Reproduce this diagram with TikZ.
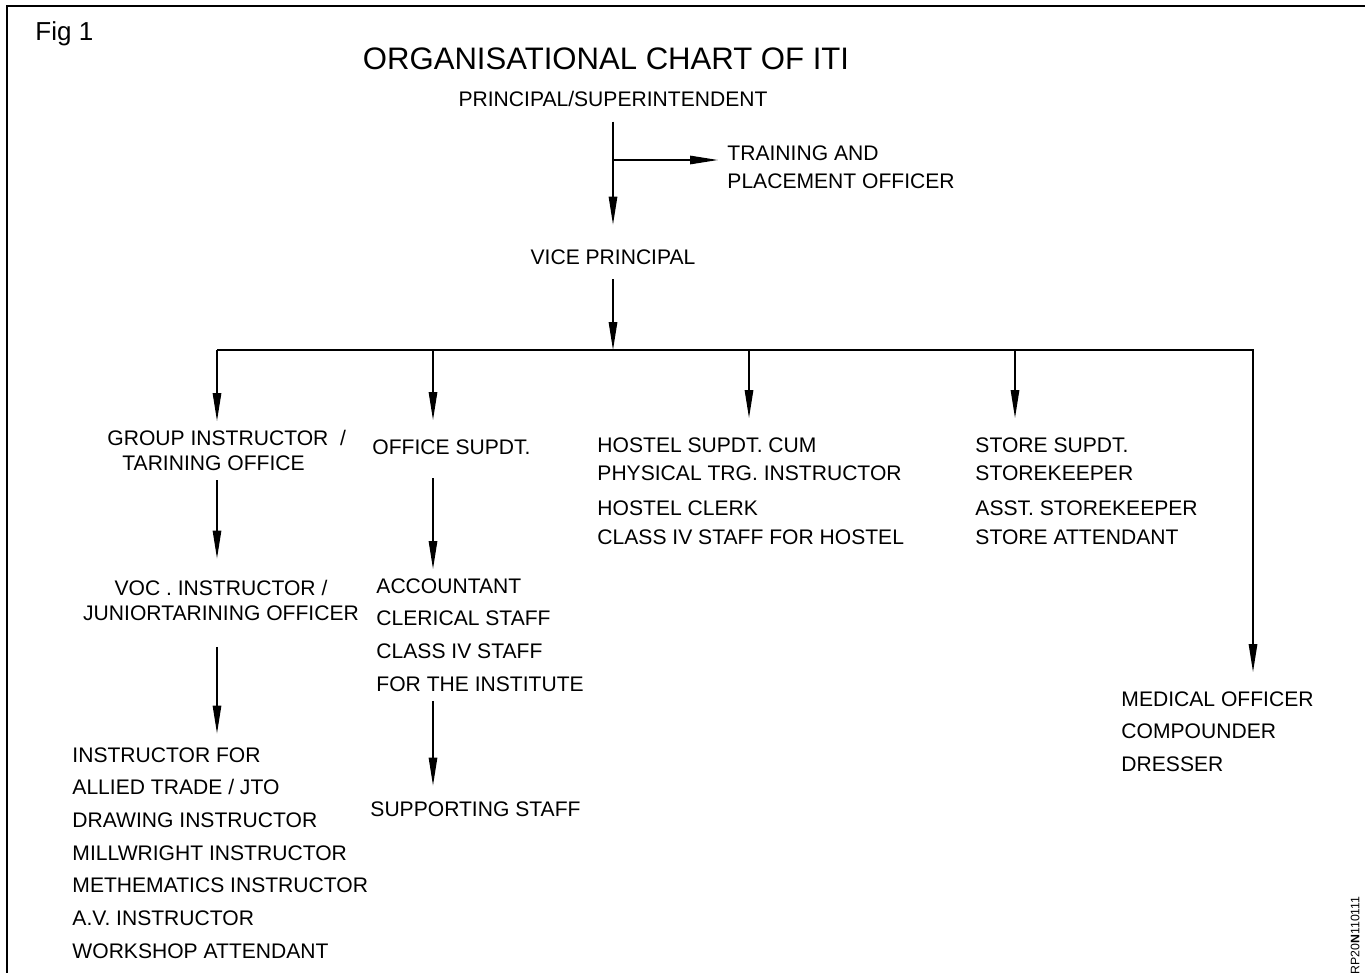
\documentclass[tikz,border=0pt]{standalone}
\usepackage{fontspec}
\setmainfont{Liberation Sans}
\usetikzlibrary{arrows.meta}

\begin{document}
\begin{tikzpicture}[>={Triangle[length=5.6mm,width=1.7mm]}, x=0.02cm, y=-0.02cm, line width=0.75pt]
		\tikzstyle{staff} = [font=\fontsize{12}{16.4}\selectfont, inner sep=5pt, align=left]
		\tikzstyle{roll} = [staff, anchor=north west, font=\fontsize{12}{18.6}\selectfont]
		\tikzstyle{longtip} = [shorten >=0.2cm]

		\useasboundingbox (0,0) rectangle (1365,973);
		% frame
		\draw[line width=1.1pt] (7,973) -- (7,6) -- (1365,6);

		\coordinate (br) at (613,160);
		\coordinate (bus) at (613,350);
		\coordinate (b1) at (217,350);
		\coordinate (b2) at (433,350);
		\coordinate (b3) at (749,350);
		\coordinate (b4) at (1015,350);
		\coordinate (b5) at (1253,350);

		\path[->]

		node[staff, anchor=west, font=\fontsize{14.8}{18}\selectfont] (fig) at (26,34) {Fig 1}
		node[staff, font=\fontsize{17.7}{20}\selectfont] (title) at (606,59) {ORGANISATIONAL CHART OF ITI}
		node[staff] (ps) at (613,99) {PRINCIPAL/SUPERINTENDENT}
		node[staff, anchor=north west] (tpo) at (718,136) {TRAINING AND\\PLACEMENT OFFICER}
		node[staff] (vp) at (613,257) {VICE PRINCIPAL}

		node[staff, anchor=north west] (gi) at (98,421) {GROUP INSTRUCTOR\ \ /\\[-2.2pt]\hspace*{8.5pt}TARINING OFFICE}
		node[staff, anchor=north, align=center] (voc) at (221,571) {VOC . INSTRUCTOR /\\[-2.2pt]JUNIORTARINING OFFICER}
		node[roll] (ins) at (63,738) {INSTRUCTOR FOR\\ALLIED TRADE / JTO\\DRAWING INSTRUCTOR\\MILLWRIGHT INSTRUCTOR\\METHEMATICS INSTRUCTOR\\A.V. INSTRUCTOR\\WORKSHOP ATTENDANT}

		node[staff, anchor=north west] (os) at (363,430) {OFFICE SUPDT.}
		node[roll] (acc) at (367,569) {ACCOUNTANT\\CLERICAL STAFF\\CLASS IV STAFF\\FOR THE INSTITUTE}
		node[staff, anchor=north west] (ss) at (361,792) {SUPPORTING STAFF}

		node[staff, anchor=north west] (hostel) at (588,428) {HOSTEL SUPDT. CUM\\PHYSICAL TRG. INSTRUCTOR\\[3.4pt]HOSTEL CLERK\\CLASS IV STAFF FOR HOSTEL}
		node[staff, anchor=north west] (store) at (966,428) {STORE SUPDT.\\STOREKEEPER\\[3.4pt]ASST. STOREKEEPER\\STORE ATTENDANT}
		node[roll] (med) at (1112,682) {MEDICAL OFFICER\\COMPOUNDER\\DRESSER}

		node[rotate=90, anchor=west, inner sep=0pt, font=\fontsize{7}{8}\selectfont] (code) at (1355,975) {RP20\textbf{N}110111}

		(ps) edge[shorten <=0.11cm, shorten >=0.31cm] (vp)
		(br) edge (br -| tpo.west)
		(vp) edge[shorten <=0.11cm] (bus)

		(b1) edge (b1 |- gi.north)
		(b2) edge[longtip] (b2 |- os.north)
		(b3) edge[longtip] (b3 |- hostel.north)
		(b4) edge[longtip] (b4 |- store.north)

		(gi.south -| b1) edge[shorten >=0.25cm] (b1 |- voc.north)
		(voc.south -| b1) edge[shorten <=0.33cm, shorten >=0.09cm] (b1 |- ins.north)
		(os.south -| b2) edge[shorten <=0.29cm] (b2 |- acc.north)
		(acc.south -| b2) edge[shorten >=0.13cm] (b2 |- ss.north)
		;

		\draw[->, longtip] (b1) -- (b5) -- (b5 |- med.north);

\end{tikzpicture}
\end{document}
